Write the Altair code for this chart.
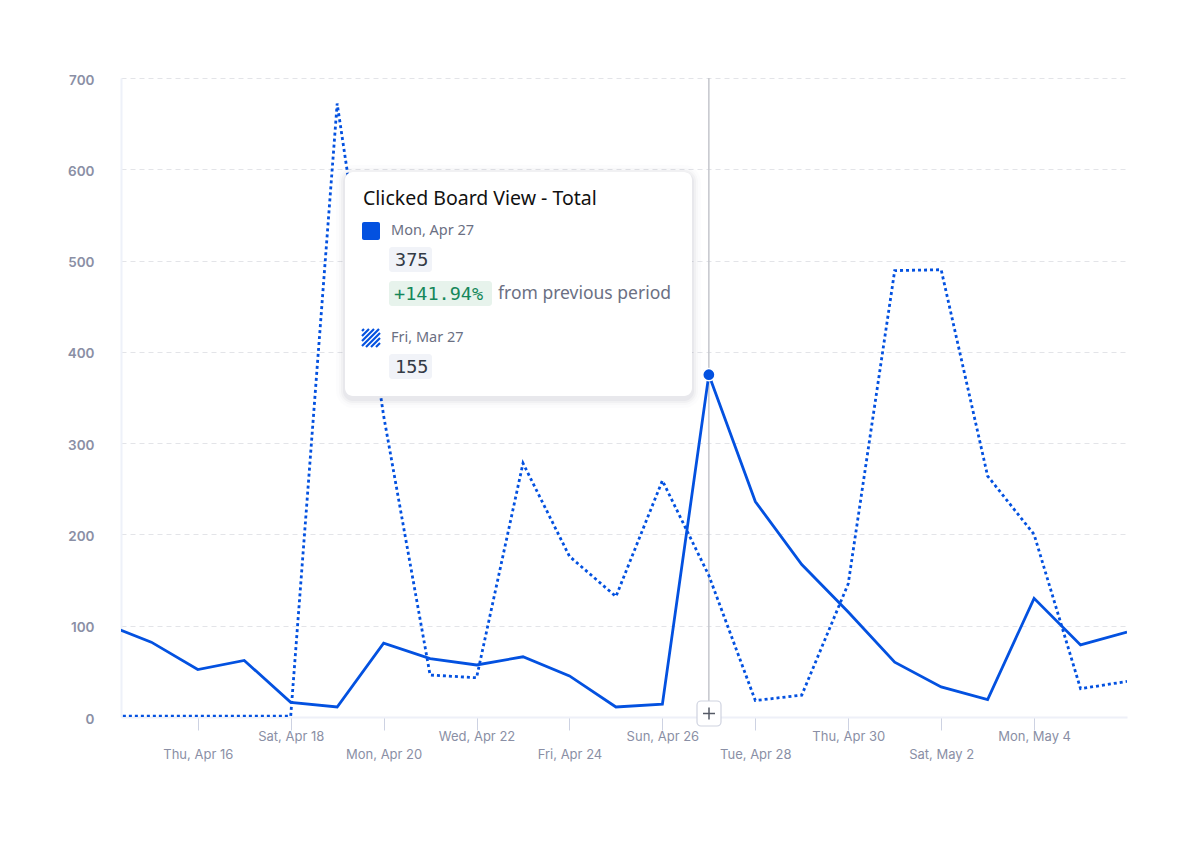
import altair as alt
import pandas as pd

# ---------------- data ----------------
dates = ["2020-04-14", "2020-04-15", "2020-04-16", "2020-04-17", "2020-04-18",
         "2020-04-19", "2020-04-20", "2020-04-21", "2020-04-22", "2020-04-23",
         "2020-04-24", "2020-04-25", "2020-04-26", "2020-04-27", "2020-04-28",
         "2020-04-29", "2020-04-30", "2020-05-01", "2020-05-02", "2020-05-03",
         "2020-05-04", "2020-05-05", "2020-05-06"]
current = [102, 82, 52, 62, 16, 11, 81, 64, 57, 66, 45, 11, 14, 375, 236,
           167, 115, 60, 33, 19, 130, 79, 93]
previous = [1, 1, 1, 1, 1, 672, 330, 46, 43, 278, 176, 132, 259, 155, 18,
            24, 146, 489, 490, 264, 200, 31, 39]

tick_dates = ["2020-04-16", "2020-04-18", "2020-04-20", "2020-04-22", "2020-04-24",
              "2020-04-26", "2020-04-28", "2020-04-30", "2020-05-02", "2020-05-04"]
lower_row_labels = ["Thu, Apr 16", "Mon, Apr 20", "Fri, Apr 24", "Tue, Apr 28", "Sat, May 2"]
y_ticks = [0, 100, 200, 300, 400, 500, 600, 700]

hover_date = "2020-04-27"
hover_label = "Mon, Apr 27"
prev_label = "Fri, Mar 27"
title_text = "Clicked Board View - Total"

BLUE = "#0351e0"
AXIS_GRAY = "#8a8fa5"
TEXT_GRAY = "#6b7083"

df = pd.DataFrame({"date": dates, "current": current, "previous": previous})
hi = dates.index(hover_date)
cur_v, prev_v = current[hi], previous[hi]
pct = (cur_v / prev_v - 1) * 100
hover_df = pd.DataFrame({"date": [hover_date], "current": [cur_v], "previous": [prev_v]})

# ---------------- scales / axes ----------------
def dt(s, h=0, m=0):
    y, mo, d = (int(v) for v in s.split("-"))
    return alt.DateTime(year=y, month=mo, date=d, hours=h, minutes=m, utc=True)

x_scale = alt.Scale(type="utc", domain=[dt("2020-04-14", 8, 20), dt("2020-05-06")])
lower_js = "[" + ",".join("'" + s + "'" for s in lower_row_labels) + "]"
x_axis = alt.Axis(
    values=[dt(s) for s in tick_dates], format="%a, %b %-d", title=None,
    labelExpr=f"indexof({lower_js}, datum.label) >= 0 ? ['', datum.label] : datum.label",
    labelLineHeight=18, labelFont="Inter", labelFontSize=13, labelColor=AXIS_GRAY,
    labelPadding=0, labelOverlap=False, labelBaseline="top",
    ticks=True, tickSize=13, tickColor="#cdd2e2", tickWidth=1,
    domain=True, domainColor="#eef0f8", domainWidth=2, grid=False,
)
y_scale = alt.Scale(domain=[0, 700], nice=False)
y_axis = alt.Axis(
    values=y_ticks, title=None, labelFont="Inter", labelFontSize=13.5, labelFontWeight=600,
    labelColor=AXIS_GRAY, labelPadding=27, labelOffset=2, ticks=False,
    domain=True, domainColor="#eef1f9", domainWidth=2,
    grid=True, gridColor="#e3e4e8", gridDash=[5, 4], gridWidth=1,
)

X = alt.X("date:T", scale=x_scale, axis=x_axis)

prev_line = alt.Chart(df).mark_line(
    color=BLUE, strokeWidth=2.8, strokeDash=[3, 3], clip=True
).encode(x=X, y=alt.Y("previous:Q", scale=y_scale, axis=y_axis))

cur_line = alt.Chart(df).mark_line(
    color=BLUE, strokeWidth=2.8, clip=True
).encode(x=X, y=alt.Y("current:Q", scale=y_scale, axis=y_axis))

rule = alt.Chart(hover_df).mark_rule(color="#c4c6cc", strokeWidth=1.5).encode(x=X)

dot = alt.Chart(hover_df).mark_circle(
    color=BLUE, size=150, opacity=1, stroke="white", strokeWidth=1.5
).encode(x=X, y=alt.Y("current:Q", scale=y_scale, axis=y_axis))

# ---------------- tooltip annotation (pixel positions) ----------------
OX, OY = 121, 78
def px(v):
    return alt.value(v - OX)
def py(v):
    return alt.value(v - OY)

one = pd.DataFrame({"k": [0]})
layers = []

# shadow
for off, op in [(9, 0.012), (6, 0.02), (4, 0.03), (2, 0.04)]:
    layers.append(alt.Chart(one).mark_rect(color="#1b2340", opacity=op, cornerRadius=8 + off).encode(
        x=px(345 - off), x2=px(692 + off), y=py(172 - off + 2), y2=py(396 + off + 3)))
layers.append(alt.Chart(one).mark_rect(color="white", cornerRadius=8).encode(
    x=px(345), x2=px(692), y=py(172), y2=py(396)))

def text(t, x, y, size, color, font="Noto Sans", weight=400):
    return alt.Chart(one).mark_text(
        text=t, align="left", baseline="middle", font=font, fontSize=size,
        color=color, fontWeight=weight
    ).encode(x=px(x), y=py(y))

def box(x1, x2, y1, y2, color):
    return alt.Chart(one).mark_rect(color=color, cornerRadius=3).encode(
        x=px(x1), x2=px(x2), y=py(y1), y2=py(y2))

layers.append(text(title_text, 363, 199, 19.5, "#111111"))
layers.append(alt.Chart(one).mark_rect(color=BLUE, cornerRadius=2).encode(
    x=px(362), x2=px(380), y=py(222), y2=py(240)))
layers.append(text(hover_label, 391, 231, 14.5, TEXT_GRAY))
layers.append(box(389, 432, 247, 272, "#f1f3f8"))
layers.append(text(f"{cur_v}", 395, 260, 18.5, "#333a45", font="DejaVu Sans Mono"))
layers.append(box(389, 492, 281, 306, "#e7f3ec"))
layers.append(text(f"+{pct:.2f}%", 394, 294, 18.5, "#16875a", font="DejaVu Sans Mono"))
layers.append(text("from previous period", 498, 294, 17.5, TEXT_GRAY))

# hatched square
sx, sy, s = 362, 329, 18
for c in [2, 7, 12, 17, 22, 27, 32]:
    if c <= s:
        x1, y1, x2, y2 = sx, sy + c, sx + c, sy
    else:
        x1, y1, x2, y2 = sx + c - s, sy + s, sx + s, sy + c - s
    layers.append(alt.Chart(one).mark_rule(color=BLUE, strokeWidth=2.2).encode(
        x=px(x1), y=py(y1), x2=px(x2), y2=py(y2)))
layers.append(text(prev_label, 391, 338, 14.5, TEXT_GRAY))
layers.append(box(389, 432, 354, 379, "#f1f3f8"))
layers.append(text(f"{prev_v}", 395, 367, 18.5, "#333a45", font="DejaVu Sans Mono"))

# "+" button at the hover position
layers.append(alt.Chart(one).mark_rect(color="white", stroke="#cfd3e0", strokeWidth=1.2, cornerRadius=4).encode(
    x=px(697), x2=px(721), y=py(701), y2=py(726)))
layers.append(alt.Chart(one).mark_rule(color="#555a66", strokeWidth=1.5).encode(
    x=px(703), x2=px(715), y=py(713.5), y2=py(713.5)))
layers.append(alt.Chart(one).mark_rule(color="#555a66", strokeWidth=1.5).encode(
    x=px(709), x2=px(709), y=py(707.5), y2=py(719.5)))

chart = alt.layer(rule, prev_line, cur_line, dot, *layers).properties(
    width=1006, height=639,
    autosize=alt.AutoSizeParams(type="none"),
    padding={"left": 121, "top": 78, "right": 74, "bottom": 130},
    background="white",
).configure_view(stroke=None)

chart.save("out.html", embed_options={"renderer": "svg", "actions": False})
